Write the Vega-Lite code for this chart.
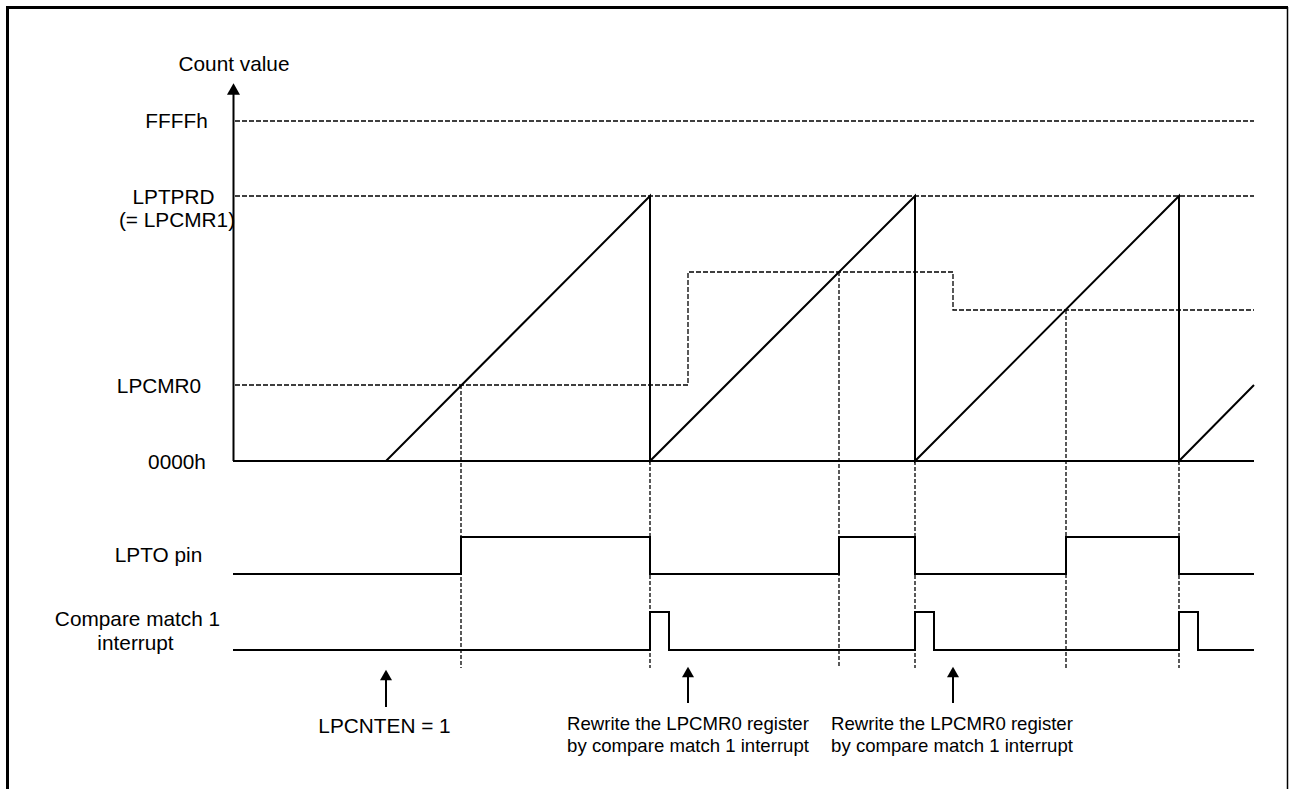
{
  "$schema": "https://vega.github.io/schema/vega-lite/v6.json",
  "width": 1290,
  "height": 789,
  "padding": 0,
  "autosize": {"type": "none"},
  "background": "white",
  "config": {"view": {"stroke": null}, "axis": {"disable": true}},
  "datasets": {
    "frame": [
      {"side": "left", "x": 7.5, "y": 7.5, "x2": 7.5, "y2": 800},
      {"side": "top", "x": 6, "y": 7.5, "x2": 1288, "y2": 7.5}
    ],
    "frameThin": [
      {"side": "right", "x": 1287.5, "y": 7, "x2": 1287.5, "y2": 800}
    ],
    "hlevels": [
      {"level": "FFFFh", "x": 235, "x2": 1254, "y": 121},
      {"level": "LPTPRD", "x": 235, "x2": 1254, "y": 196}
    ],
    "cmr0": [
      {"i": 0, "t": 235, "v": 385},
      {"i": 1, "t": 688, "v": 385},
      {"i": 2, "t": 688, "v": 272},
      {"i": 3, "t": 953, "v": 272},
      {"i": 4, "t": 953, "v": 310},
      {"i": 5, "t": 1254, "v": 310}
    ],
    "vguides": [
      {"t": 461, "y": 385, "y2": 668},
      {"t": 650, "y": 461, "y2": 668},
      {"t": 839, "y": 272, "y2": 668},
      {"t": 915, "y": 461, "y2": 668},
      {"t": 1066, "y": 310, "y2": 668},
      {"t": 1179, "y": 461, "y2": 668}
    ],
    "signals": [
      {"s": "axis", "i": 0, "t": 233.5, "v": 94},
      {"s": "axis", "i": 1, "t": 233.5, "v": 461},
      {"s": "base", "i": 0, "t": 233, "v": 461},
      {"s": "base", "i": 1, "t": 1254, "v": 461},
      {"s": "count", "i": 0, "t": 233, "v": 461},
      {"s": "count", "i": 1, "t": 386, "v": 461},
      {"s": "count", "i": 2, "t": 650, "v": 196},
      {"s": "count", "i": 3, "t": 650, "v": 461},
      {"s": "count", "i": 4, "t": 915, "v": 196},
      {"s": "count", "i": 5, "t": 915, "v": 461},
      {"s": "count", "i": 6, "t": 1179, "v": 196},
      {"s": "count", "i": 7, "t": 1179, "v": 461},
      {"s": "count", "i": 8, "t": 1254, "v": 385},
      {"s": "lpto", "i": 0, "t": 233, "v": 574},
      {"s": "lpto", "i": 1, "t": 461, "v": 574},
      {"s": "lpto", "i": 2, "t": 461, "v": 537},
      {"s": "lpto", "i": 3, "t": 650, "v": 537},
      {"s": "lpto", "i": 4, "t": 650, "v": 574},
      {"s": "lpto", "i": 5, "t": 839, "v": 574},
      {"s": "lpto", "i": 6, "t": 839, "v": 537},
      {"s": "lpto", "i": 7, "t": 915, "v": 537},
      {"s": "lpto", "i": 8, "t": 915, "v": 574},
      {"s": "lpto", "i": 9, "t": 1066, "v": 574},
      {"s": "lpto", "i": 10, "t": 1066, "v": 537},
      {"s": "lpto", "i": 11, "t": 1179, "v": 537},
      {"s": "lpto", "i": 12, "t": 1179, "v": 574},
      {"s": "lpto", "i": 13, "t": 1254, "v": 574},
      {"s": "irq", "i": 0, "t": 233, "v": 650},
      {"s": "irq", "i": 1, "t": 650, "v": 650},
      {"s": "irq", "i": 2, "t": 650, "v": 612},
      {"s": "irq", "i": 3, "t": 669, "v": 612},
      {"s": "irq", "i": 4, "t": 669, "v": 650},
      {"s": "irq", "i": 5, "t": 915, "v": 650},
      {"s": "irq", "i": 6, "t": 915, "v": 612},
      {"s": "irq", "i": 7, "t": 934, "v": 612},
      {"s": "irq", "i": 8, "t": 934, "v": 650},
      {"s": "irq", "i": 9, "t": 1179, "v": 650},
      {"s": "irq", "i": 10, "t": 1179, "v": 612},
      {"s": "irq", "i": 11, "t": 1198, "v": 612},
      {"s": "irq", "i": 12, "t": 1198, "v": 650},
      {"s": "irq", "i": 13, "t": 1254, "v": 650}
    ],
    "shafts": [
      {"name": "LPCNTEN", "t": 386, "y": 678, "y2": 707},
      {"name": "rewrite1", "t": 688, "y": 675, "y2": 703},
      {"name": "rewrite2", "t": 953, "y": 675, "y2": 703}
    ],
    "bigHead": [
      {"name": "axis", "t": 233.5, "v": 89}
    ],
    "smallHeads": [
      {"name": "LPCNTEN", "t": 386, "v": 675},
      {"name": "rewrite1", "t": 688, "v": 672},
      {"name": "rewrite2", "t": 953, "v": 672}
    ],
    "labels": [
      {"label": "Count value", "t": 234, "v": 70.5},
      {"label": "FFFFh", "t": 176.5, "v": 128},
      {"label": "LPTPRD", "t": 173.5, "v": 203.5},
      {"label": "(= LPCMR1)", "t": 177, "v": 227},
      {"label": "LPCMR0", "t": 159, "v": 393},
      {"label": "0000h", "t": 177, "v": 468.5},
      {"label": "LPTO pin", "t": 158.5, "v": 562},
      {"label": "Compare match 1", "t": 137.5, "v": 626},
      {"label": "interrupt", "t": 135.5, "v": 649.5},
      {"label": "LPCNTEN = 1", "t": 384.5, "v": 733}
    ],
    "notes": [
      {"label": "Rewrite the LPCMR0 register", "t": 688, "v": 729.5},
      {"label": "by compare match 1 interrupt", "t": 688, "v": 752},
      {"label": "Rewrite the LPCMR0 register", "t": 952, "v": 729.5},
      {"label": "by compare match 1 interrupt", "t": 952, "v": 752}
    ]
  },
  "layer": [
    {
      "data": {"name": "frame"},
      "mark": {"type": "rule", "stroke": "black", "strokeWidth": 3},
      "encoding": {
        "x": {"field": "x", "type": "quantitative", "scale": {"domain": [0, 1290], "nice": false, "zero": false}},
        "y": {"field": "y", "type": "quantitative", "scale": {"domain": [0, 789], "nice": false, "zero": false, "reverse": true}},
        "x2": {"field": "x2"},
        "y2": {"field": "y2"}
      }
    },
    {
      "data": {"name": "frameThin"},
      "mark": {"type": "rule", "stroke": "black", "strokeWidth": 1.5},
      "encoding": {
        "x": {"field": "x", "type": "quantitative"},
        "y": {"field": "y", "type": "quantitative"},
        "x2": {"field": "x2"},
        "y2": {"field": "y2"}
      }
    },
    {
      "data": {"name": "hlevels"},
      "mark": {"type": "rule", "stroke": "black", "strokeWidth": 1.3, "strokeDash": [5, 2]},
      "encoding": {
        "x": {"field": "x", "type": "quantitative"},
        "x2": {"field": "x2"},
        "y": {"field": "y", "type": "quantitative"}
      }
    },
    {
      "data": {"name": "cmr0"},
      "mark": {"type": "line", "stroke": "black", "strokeWidth": 1.3, "strokeDash": [5, 2]},
      "encoding": {
        "x": {"field": "t", "type": "quantitative"},
        "y": {"field": "v", "type": "quantitative"},
        "order": {"field": "i"}
      }
    },
    {
      "data": {"name": "vguides"},
      "mark": {"type": "rule", "stroke": "black", "strokeWidth": 1.3, "strokeDash": [4, 2]},
      "encoding": {
        "x": {"field": "t", "type": "quantitative"},
        "y": {"field": "y", "type": "quantitative"},
        "y2": {"field": "y2"}
      }
    },
    {
      "data": {"name": "signals"},
      "mark": {"type": "line", "stroke": "black", "strokeWidth": 2, "strokeJoin": "miter"},
      "encoding": {
        "x": {"field": "t", "type": "quantitative"},
        "y": {"field": "v", "type": "quantitative"},
        "detail": {"field": "s"},
        "order": {"field": "i"}
      }
    },
    {
      "data": {"name": "shafts"},
      "mark": {"type": "rule", "stroke": "black", "strokeWidth": 2},
      "encoding": {
        "x": {"field": "t", "type": "quantitative"},
        "y": {"field": "y", "type": "quantitative"},
        "y2": {"field": "y2"}
      }
    },
    {
      "data": {"name": "bigHead"},
      "mark": {"type": "point", "shape": "triangle-up", "filled": true, "color": "black", "size": 170, "opacity": 1},
      "encoding": {
        "x": {"field": "t", "type": "quantitative"},
        "y": {"field": "v", "type": "quantitative"}
      }
    },
    {
      "data": {"name": "smallHeads"},
      "mark": {"type": "point", "shape": "triangle-up", "filled": true, "color": "black", "size": 144, "opacity": 1},
      "encoding": {
        "x": {"field": "t", "type": "quantitative"},
        "y": {"field": "v", "type": "quantitative"}
      }
    },
    {
      "data": {"name": "labels"},
      "mark": {"type": "text", "font": "Liberation Sans", "fontSize": 20.8, "align": "center", "baseline": "alphabetic", "color": "black"},
      "encoding": {
        "x": {"field": "t", "type": "quantitative"},
        "y": {"field": "v", "type": "quantitative"},
        "text": {"field": "label"}
      }
    },
    {
      "data": {"name": "notes"},
      "mark": {"type": "text", "font": "Liberation Sans", "fontSize": 18.6, "align": "center", "baseline": "alphabetic", "color": "black"},
      "encoding": {
        "x": {"field": "t", "type": "quantitative"},
        "y": {"field": "v", "type": "quantitative"},
        "text": {"field": "label"}
      }
    }
  ]
}
